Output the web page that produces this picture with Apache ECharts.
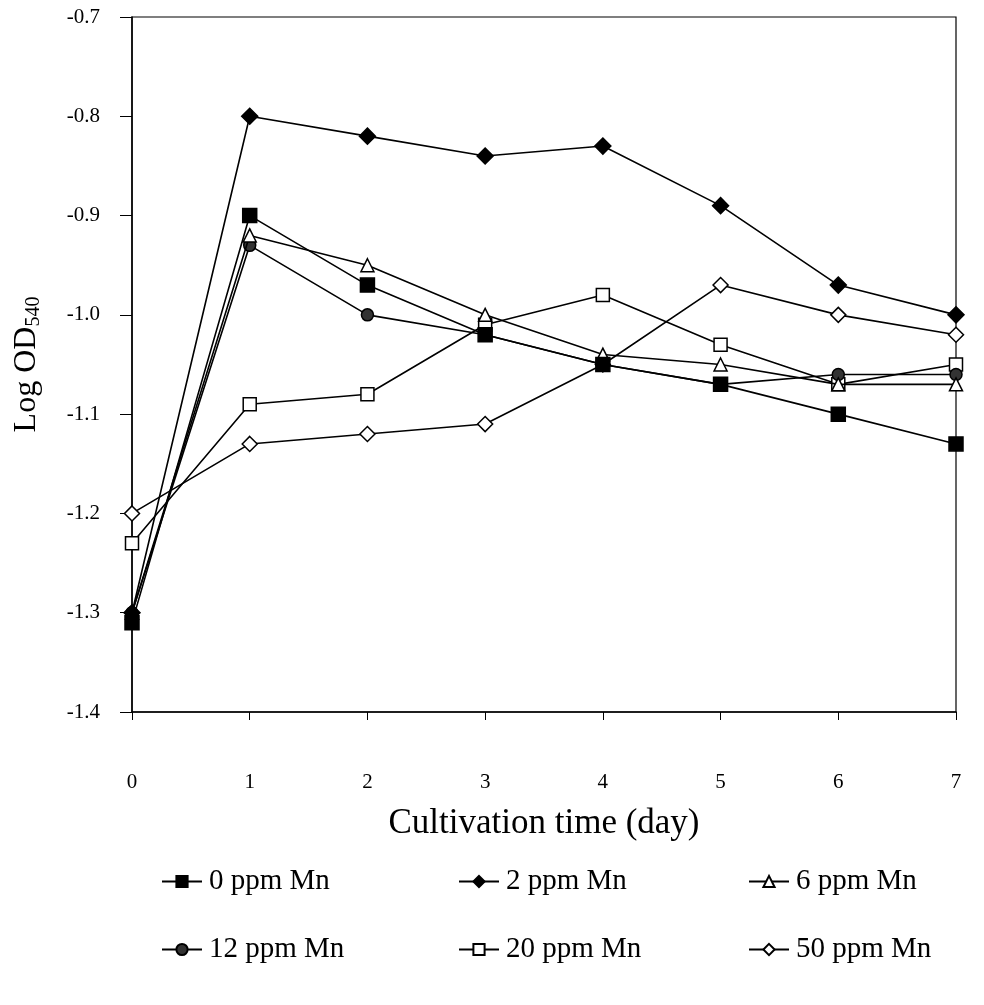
<!DOCTYPE html>
<html>
<head>
<meta charset="utf-8">
<script src="https://cdn.jsdelivr.net/npm/echarts@6/dist/echarts.min.js"></script>
<style>
  html, body { margin: 0; padding: 0; background: #fff; }
  #chart { width: 984px; height: 1005px; }
</style>
</head>
<body>
<div id="chart"></div>
<script>
// Cultivation days on the x axis
const days = ['0', '1', '2', '3', '4', '5', '6', '7'];

// Log OD540 for each Mn concentration
const mn0  = [-1.31, -0.90, -0.97, -1.02, -1.05, -1.07, -1.10, -1.13];
const mn2  = [-1.30, -0.80, -0.82, -0.84, -0.83, -0.89, -0.97, -1.00];
const mn6  = [-1.30, -0.92, -0.95, -1.00, -1.04, -1.05, -1.07, -1.07];
const mn12 = [-1.30, -0.93, -1.00, -1.02, -1.05, -1.07, -1.06, -1.06];
const mn20 = [-1.23, -1.09, -1.08, -1.01, -0.98, -1.03, -1.07, -1.05];
const mn50 = [-1.20, -1.13, -1.12, -1.11, -1.05, -0.97, -1.00, -1.02];

const seriesNames = ['0 ppm Mn', '2 ppm Mn', '6 ppm Mn', '12 ppm Mn', '20 ppm Mn', '50 ppm Mn'];

const FONT = '"Liberation Serif", "DejaVu Serif", serif';

const styles = [
  { data: mn0,  symbol: 'rect',     size: 14, fill: '#000' },
  { data: mn2,  symbol: 'diamond',  size: 16, fill: '#000' },
  { data: mn6,  symbol: 'triangle', size: 13, fill: '#fff' },
  { data: mn12, symbol: 'circle',   size: 12, fill: '#333' },
  { data: mn20, symbol: 'rect',     size: 13, fill: '#fff' },
  { data: mn50, symbol: 'diamond',  size: 15, fill: '#fff' }
];

const series = styles.map((s, i) => ({
  name: seriesNames[i],
  type: 'line',
  data: s.data,
  symbol: s.symbol,
  symbolSize: s.size,
  showAllSymbol: true,
  lineStyle: { color: '#000', width: 1.6 },
  itemStyle: { color: s.fill, borderColor: '#000', borderWidth: 1.5 },
  emphasis: { disabled: true },
  z: 10 - i
}));

// One legend block per entry, laid out in a 3 x 2 table
const legendCols = [156, 453, 743];
const legendRows = [862, 930];
const legends = seriesNames.map((name, i) => ({
  data: [name],
  left: legendCols[i % 3],
  top: legendRows[Math.floor(i / 3)],
  itemWidth: 40,
  itemHeight: 14,
  textStyle: { fontFamily: FONT, fontSize: 29, color: '#000', padding: [0, 0, 0, 2] },
  selectedMode: false
}));

const chart = echarts.init(document.getElementById('chart'), null, { renderer: 'canvas' });
chart.setOption({
  backgroundColor: '#fff',
  animation: false,
  grid: {
    left: 132, right: 28, top: 17, bottom: 293,
    show: true, borderColor: '#000', borderWidth: 1.2, containLabel: false
  },
  legend: legends,
  xAxis: {
    type: 'category',
    data: days,
    boundaryGap: false,
    name: 'Cultivation time (day)',
    nameLocation: 'middle',
    nameGap: 94,
    nameTextStyle: { fontFamily: FONT, fontSize: 35, color: '#000' },
    axisLine: { lineStyle: { color: '#000', width: 1.5 } },
    axisTick: { show: true, length: 8, alignWithLabel: true, lineStyle: { color: '#000' } },
    axisLabel: { fontFamily: FONT, fontSize: 21, color: '#000', margin: 60 },
    splitLine: { show: false }
  },
  yAxis: {
    type: 'value',
    min: -1.4,
    max: -0.7,
    interval: 0.1,
    name: '{m|Log OD}{s|540}',
    nameLocation: 'middle',
    nameGap: 88,
    nameRotate: 90,
    nameTextStyle: {
      fontFamily: FONT, color: '#000',
      rich: {
        m: { fontFamily: FONT, fontSize: 32, color: '#000' },
        s: { fontFamily: FONT, fontSize: 20, color: '#000', padding: [14, 0, 0, 0] }
      }
    },
    axisLine: { show: true, lineStyle: { color: '#000', width: 1.5 } },
    axisTick: { show: true, length: 12, lineStyle: { color: '#000' } },
    axisLabel: {
      fontFamily: FONT, fontSize: 21, color: '#000', margin: 32,
      formatter: v => v.toFixed(1)
    },
    splitLine: { show: false }
  },
  series: series
});
</script>
</body>
</html>
